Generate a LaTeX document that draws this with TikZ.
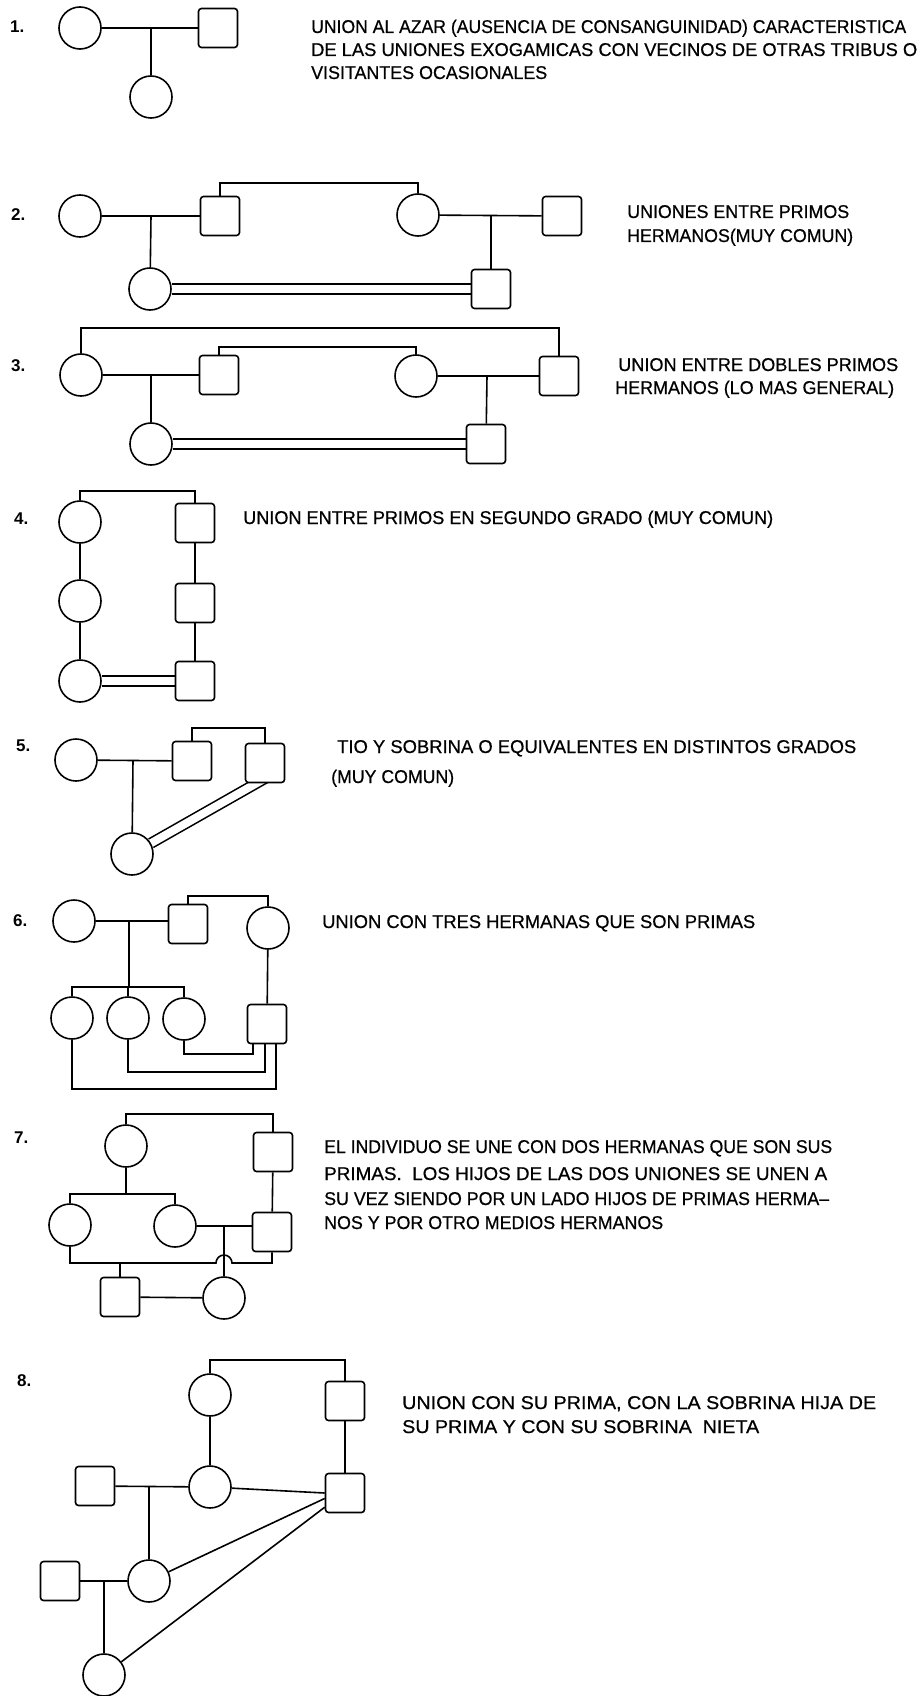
\documentclass[tikz,border=0pt]{standalone}
\usepackage{fontspec}
\usepackage{graphicx}
\setmainfont{Liberation Sans}
\newfontfamily\lettering[FakeBold=0.6,Ligatures=TeX]{Liberation Sans}
\usetikzlibrary{calc,backgrounds}
\newcommand{\fitw}[2]{\resizebox{#1pt}{\height}{#2}}
\tikzset{
  fem/.style={circle, draw, fill=white, line width=1.6pt, inner sep=0pt, minimum size=42pt},
  mas/.style={rectangle, draw, fill=white, line width=1.6pt, rounded corners=3pt, inner sep=0pt, minimum width=39pt, minimum height=39pt},
  lnk/.style={line width=1.6pt},
  dbl/.style={line width=1.6pt, double, double distance=8pt},
  txt/.style={anchor=base west, inner sep=0pt, font=\lettering\fontsize{18.5}{22}\selectfont},
  num/.style={anchor=west, inner sep=0pt, font=\fontsize{17}{20}\selectfont\bfseries},
}
\begin{document}
\begin{tikzpicture}[x=1pt, y=-1pt]
\useasboundingbox (0,0) rectangle (920,1696);

% ---------- 1 ----------
\node[num] (n1) at (10,27) {1.};
\node[fem] (c1a) at (80,28) {};
\node[mas] (s1b) at (218,28) {};
\node[fem] (c1c) at (151,97) {};
\coordinate (u1) at (151,28);
\node[txt] (t1a) at (311,33) {\fitw{595}{UNION AL AZAR (AUSENCIA DE CONSANGUINIDAD) CARACTERISTICA}};
\node[txt] (t1b) at (311,56) {\fitw{606}{DE LAS UNIONES EXOGAMICAS CON VECINOS DE OTRAS TRIBUS O}};
\node[txt] (t1c) at (311,79) {\fitw{236}{VISITANTES OCASIONALES}};

% ---------- 2 ----------
\node[num] (n2) at (11,215) {2.};
\node[fem] (c2a) at (80,216) {};
\node[mas] (s2b) at (220,216) {};
\node[fem] (c2c) at (150,289) {};
\node[fem] (c2d) at (418,215) {};
\node[mas] (s2e) at (562,216) {};
\node[mas] (s2f) at (491,289) {};
\coordinate (u2a) at (151,216);
\coordinate (u2b) at (491,215);
\coordinate (k2) at (0,183);
\node[txt] (t2a) at (627,218) {\fitw{222}{UNIONES ENTRE PRIMOS}};
\node[txt] (t2b) at (627,242) {\fitw{226}{HERMANOS(MUY COMUN)}};

% ---------- 3 ----------
\node[num] (n3) at (11,366) {3.};
\node[fem] (c3a) at (81,375) {};
\node[mas] (s3b) at (219,375) {};
\node[fem] (c3c) at (151,444) {};
\node[fem] (c3d) at (416,376) {};
\node[mas] (s3e) at (559,376) {};
\node[mas] (s3f) at (486,444) {};
\coordinate (u3a) at (151,375);
\coordinate (u3b) at (487,376);
\coordinate (k3i) at (0,347);
\coordinate (k3o) at (0,328);
\node[txt] (t3a) at (618,371) {\fitw{280}{UNION ENTRE DOBLES PRIMOS}};
\node[txt] (t3b) at (615,394) {\fitw{279}{HERMANOS (LO MAS GENERAL)}};

% ---------- 4 ----------
\node[num] (n4) at (14,519) {4.};
\node[fem] (c4a) at (80,522) {};
\node[fem] (c4b) at (80,601) {};
\node[fem] (c4c) at (80,681) {};
\node[mas] (s4a) at (195,523) {};
\node[mas] (s4b) at (195,603) {};
\node[mas] (s4c) at (195,681) {};
\coordinate (k4) at (0,491);
\node[txt] (t4a) at (243,524) {\fitw{530}{UNION ENTRE PRIMOS EN SEGUNDO GRADO (MUY COMUN)}};

% ---------- 5 ----------
\node[num] (n5) at (16,746) {5.};
\node[fem] (c5a) at (76,760) {};
\node[mas] (s5b) at (192,761) {};
\node[mas] (s5c) at (265,763) {};
\node[fem] (c5d) at (132,854) {};
\coordinate (u5) at (133,760);
\coordinate (k5) at (0,728);
\node[txt] (t5a) at (337,753) {\fitw{519}{TIO Y SOBRINA O EQUIVALENTES EN DISTINTOS GRADOS}};
\node[txt] (t5b) at (331,783) {\fitw{123}{(MUY COMUN)}};

% ---------- 6 ----------
\node[num] (n6) at (13,921) {6.};
\node[fem] (c6a) at (74,921) {};
\node[mas] (s6b) at (188,924) {};
\node[fem] (c6c) at (268,928) {};
\node[fem] (c61) at (72,1018) {};
\node[fem] (c62) at (128,1018) {};
\node[fem] (c63) at (184,1019) {};
\node[mas] (s6d) at (267,1024) {};
\coordinate (u6) at (129,921);
\coordinate (k6) at (0,987);
\coordinate (k6t) at (0,896);
\node[txt] (t6a) at (322,928) {\fitw{433}{UNION CON TRES HERMANAS QUE SON PRIMAS}};

% ---------- 7 ----------
\node[num] (n7) at (14,1138) {7.};
\node[fem] (c7a) at (126,1146) {};
\node[mas] (s7b) at (273,1152) {};
\node[fem] (c7c) at (70,1225) {};
\node[fem] (c7d) at (175,1226) {};
\node[mas] (s7e) at (272,1232) {};
\node[mas] (s7f) at (120,1297) {};
\node[fem] (c7g) at (224,1298) {};
\coordinate (u7) at (224,1226);
\coordinate (k7t) at (0,1114);
\coordinate (k7s) at (0,1194);
\coordinate (k7b) at (0,1263);
\node[txt] (t7a) at (324,1153) {\fitw{508}{EL INDIVIDUO SE UNE CON DOS HERMANAS QUE SON SUS}};
\node[txt] (t7b) at (324,1180) {\fitw{503}{PRIMAS.\ \ LOS HIJOS DE LAS DOS UNIONES SE UNEN A}};
\node[txt] (t7c) at (324,1205) {\fitw{505}{SU VEZ SIENDO POR UN LADO HIJOS DE PRIMAS HERMA\char"2013}};
\node[txt] (t7d) at (324,1229) {\fitw{339}{NOS Y POR OTRO MEDIOS HERMANOS}};

% ---------- 8 ----------
\node[num] (n8) at (17,1381) {8.};
\node[fem] (c8a) at (210,1395) {};
\node[mas] (s8b) at (345,1401) {};
\node[fem] (c8c) at (210,1487) {};
\node[mas] (s8d) at (95,1486) {};
\node[mas] (s8e) at (345,1493) {};
\node[fem] (c8f) at (149,1581) {};
\node[mas] (s8g) at (60,1581) {};
\node[fem] (c8h) at (104,1675) {};
\coordinate (u8a) at (149,1486);
\coordinate (u8b) at (104,1581);
\coordinate (k8t) at (0,1360);
\node[txt] (t8a) at (402,1409) {\fitw{474}{UNION CON SU PRIMA, CON LA SOBRINA HIJA DE}};
\node[txt] (t8b) at (402,1433) {\fitw{357}{SU PRIMA Y CON SU SOBRINA\ \ NIETA}};

\begin{pgfonlayer}{background}
\fill[white] (0,0) rectangle (920,1696);
% 1
\draw[lnk] (c1a) -- (s1b);
\draw[lnk] (u1) -- (c1c);
% 2
\draw[lnk] (c2a) -- (s2b);
\draw[lnk] (u2a) -- (c2c);
\draw[lnk] (s2b.north) -- (s2b.north |- k2) -| (c2d.north);
\draw[lnk] (c2d) -- (s2e);
\draw[lnk] (u2b) -- (s2f);
\draw[dbl] (c2c) -- (s2f);
% 3
\draw[lnk] (c3a) -- (s3b);
\draw[lnk] (u3a) -- (c3c);
\draw[lnk] (s3b.north) -- (s3b.north |- k3i) -| (c3d.north);
\draw[lnk] (c3a.north) -- (c3a.north |- k3o) -| (s3e.north);
\draw[lnk] (c3d) -- (s3e);
\draw[lnk] (u3b) -- (s3f);
\draw[dbl] (c3c) -- (s3f);
% 4
\draw[lnk] (c4a.north) -- (c4a.north |- k4) -| (s4a.north);
\draw[lnk] (c4a) -- (c4b);
\draw[lnk] (c4b) -- (c4c);
\draw[lnk] (s4a) -- (s4b);
\draw[lnk] (s4b) -- (s4c);
\draw[dbl] (c4c) -- (s4c);
% 5
\draw[lnk] (c5a) -- (s5b);
\draw[lnk] (u5) -- (c5d);
\draw[lnk] (s5b.north) -- (s5b.north |- k5) -| (s5c.north);
\draw[dbl] (c5d) -- ($(s5c.south)+(2,-6)$);
% 6
\draw[lnk] (c6a.east) -- (c6a.east -| s6b.west);
\draw[lnk] (u6) -- (u6 |- k6);
\draw[lnk] (c61.north) -- (c61.north |- k6) -| (c63.north);
\draw[lnk] (c62.north) -- (c62.north |- k6);
\draw[lnk] (s6b.north) -- (s6b.north |- k6t) -| (c6c.north);
\draw[lnk] (c6c) -- (s6d);
\draw[lnk] (c63.south) |- ($(s6d.south)+(-14,9.5)$) -- ($(s6d.south)+(-14,0)$);
\draw[lnk] (c62.south) |- ($(s6d.south)+(-2,27.5)$) -- ($(s6d.south)+(-2,0)$);
\draw[lnk] (c61.south) |- ($(s6d.south)+(9,44.5)$) -- ($(s6d.south)+(9,0)$);
% 7
\draw[lnk] (c7a.north) -- (c7a.north |- k7t) -| (s7b.north);
\draw[lnk] (c7a.south) -- (c7a.south |- k7s);
\draw[lnk] (c7c.north) -- (c7c.north |- k7s) -| (c7d.north);
\draw[lnk] (s7b) -- (s7e);
\draw[lnk] (c7d.east) -- (c7d.east -| s7e.west);
\draw[lnk] (u7) -- (c7g.north);
\draw[lnk] (c7c.south) |- ($(u7 |- k7b)+(-8,0)$) arc[start angle=180, end angle=360, radius=8] -| (s7e.south);
\draw[lnk] (s7f.north) -- (s7f.north |- k7b);
\draw[lnk] (s7f) -- (c7g);
% 8
\draw[lnk] (c8a.north) -- (c8a.north |- k8t) -| (s8b.north);
\draw[lnk] (c8a) -- (c8c);
\draw[lnk] (s8b) -- (s8e);
\draw[lnk] (s8d) -- (c8c);
\draw[lnk] (u8a) -- (c8f);
\draw[lnk] (c8c) -- (s8e.west);
\draw[lnk] (c8f) -- (s8e.195);
\draw[lnk] (c8h) -- (s8e.215);
\draw[lnk] (s8g) -- (c8f);
\draw[lnk] (u8b) -- (c8h);
\end{pgfonlayer}
\end{tikzpicture}
\end{document}
